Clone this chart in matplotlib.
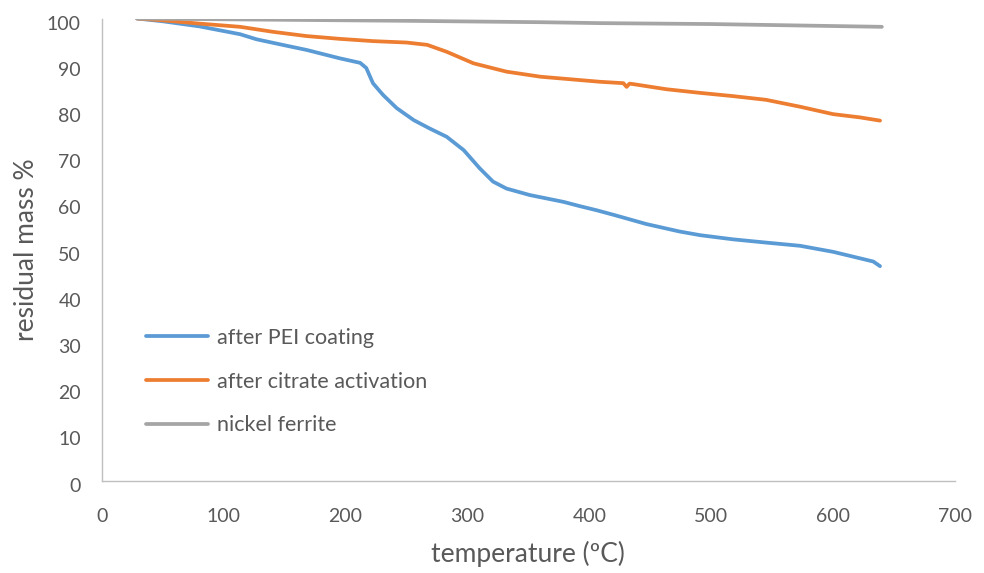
import numpy as np
import matplotlib
matplotlib.use('Agg')
import matplotlib.pyplot as plt
from matplotlib.transforms import ScaledTranslation

plt.rcParams['font.family'] = ['Lato', 'DejaVu Sans']

# after PEI coating
pei_t = [29, 50, 80, 113.5, 127, 150, 168, 195, 212, 217, 222.5, 228, 231, 242, 256, 269, 283, 297,
         310, 321, 332, 351, 379, 392, 406, 420, 447, 474, 491, 518, 545, 573, 600, 622, 633, 638.5]
pei_m = [100, 99.4, 98.3, 96.6, 95.5, 94.2, 93.2, 91.4, 90.4, 89.3, 86.0, 84.3, 83.4, 80.6, 78.0, 76.2, 74.4, 71.5,
         67.6, 64.7, 63.2, 61.8, 60.3, 59.4, 58.5, 57.5, 55.5, 53.9, 53.1, 52.2, 51.5, 50.8, 49.5, 48.1, 47.4, 46.4]

# after citrate activation
cit_t = [29, 50, 80, 113.5, 141, 168, 195, 223, 250, 267, 283, 305, 332, 360, 409, 428, 430.6, 433, 436,
         463, 491, 518, 545, 573, 600, 622, 638.5]
cit_m = [100, 99.6, 98.9, 98.2, 97.1, 96.2, 95.6, 95.1, 94.8, 94.3, 92.8, 90.3, 88.5, 87.4, 86.3, 86.0, 85.2, 85.9, 85.8,
         84.7, 83.9, 83.2, 82.4, 80.9, 79.3, 78.6, 77.9]

# nickel ferrite
nf_t = [29, 113, 250, 360, 409, 500, 640]
nf_m = [100, 99.8, 99.5, 99.2, 99.0, 98.8, 98.2]

txt = '#595959'

fig = plt.figure(figsize=(9.84, 5.73), dpi=100)
ax = fig.add_axes([0.1034, 0.1614, 0.9705 - 0.1034, 0.9677 - 0.1614])

ax.plot(pei_t, pei_m, color='#5B9BD5', lw=2.7, solid_capstyle='round', solid_joinstyle='round', label='after PEI coating')
ax.plot(cit_t, cit_m, color='#ED7D31', lw=2.7, solid_capstyle='round', solid_joinstyle='round', label='after citrate activation')
ax.plot(nf_t, nf_m, color='#A5A5A5', lw=2.7, solid_capstyle='round', solid_joinstyle='round', label='nickel ferrite')

ax.set_xlim(0, 700)
ax.set_ylim(0, 100)
ax.set_xticks(np.arange(0, 701, 100))
ax.set_yticks(np.arange(0, 101, 10))

for s in ['top', 'right']:
    ax.spines[s].set_visible(False)
for s in ['left', 'bottom']:
    ax.spines[s].set_color('#BFBFBF')
    ax.spines[s].set_linewidth(1.0)

ax.tick_params(axis='both', length=0, labelsize=14, labelcolor=txt)
ax.tick_params(axis='y', pad=15)
ax.tick_params(axis='x', pad=20)
off = ScaledTranslation(0, -4 / 100, fig.dpi_scale_trans)
for lab in ax.get_yticklabels():
    lab.set_transform(lab.get_transform() + off)

ax.set_xlabel('temperature (ºC)', fontsize=19, color=txt, labelpad=11)
ax.set_ylabel('residual mass %', fontsize=19, color=txt, labelpad=6)

leg = ax.legend(loc='upper left', bbox_to_anchor=(146 / 984, 1 - 328 / 573), bbox_transform=fig.transFigure,
                frameon=False, fontsize=15.5, handlelength=2.9, handletextpad=0.4, labelspacing=1.1,
                borderpad=0, borderaxespad=0)
for t in leg.get_texts():
    t.set_color(txt)

fig.savefig('out.png', dpi=100)
